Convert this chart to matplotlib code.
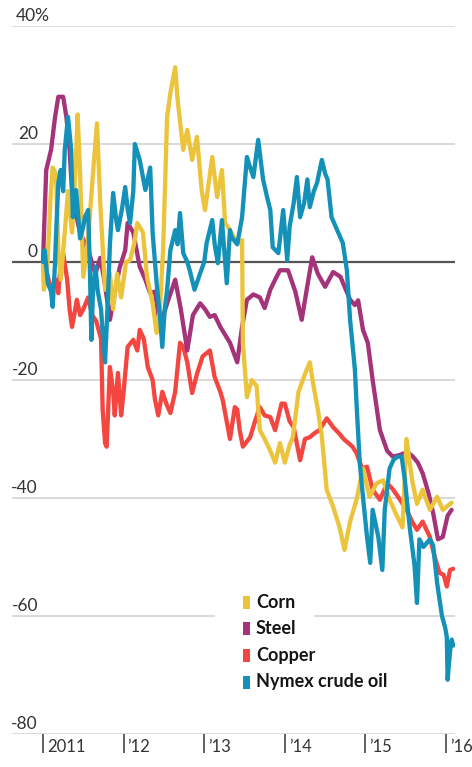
import matplotlib
matplotlib.use('Agg')
import matplotlib.pyplot as plt
from matplotlib.patches import Rectangle
import matplotlib.transforms as mtrans

# ---------------- data ----------------
START = 2011.0
years = [2011, 2012, 2013, 2014, 2015, 2016]
year_labels = ['2011', '\u201912', '\u201913', '\u201914', '\u201915', '\u201916']
y_ticks = [40, 20, 0, -20, -40, -60, -80]
y_labels = ['40%', '20', '0', '-20', '-40', '-60', '-80']
series_names = ['Corn', 'Steel', 'Copper', 'Nymex crude oil']
series_colors = ['#EBC43C', '#A5337A', '#F44641', '#1491B9']

# time in years since Jan 2011, value in % change
corn_t = [0.00, 0.01, 0.05, 0.09, 0.12, 0.16, 0.19, 0.22, 0.27, 0.31, 0.36, 0.41, 0.43, 0.46,
          0.50, 0.56, 0.62, 0.67, 0.71, 0.77, 0.83, 0.87, 0.92, 0.97, 1.03, 1.08, 1.13, 1.17,
          1.24, 1.29, 1.36, 1.41, 1.45, 1.49, 1.54, 1.58, 1.64, 1.67, 1.74, 1.79, 1.85, 1.91,
          1.97, 2.01, 2.10, 2.16, 2.22, 2.26, 2.32, 2.41, 2.47, 2.48, 2.53, 2.59, 2.65, 2.69,
          2.75, 2.82, 2.88, 2.94, 3.00, 3.06, 3.10, 3.17, 3.25, 3.31, 3.35, 3.41, 3.46, 3.52,
          3.60, 3.68, 3.74, 3.81, 3.89, 3.97, 4.05, 4.14, 4.22, 4.30, 4.39, 4.46, 4.51, 4.58,
          4.64, 4.71, 4.80, 4.89, 4.96, 5.07]
corn_v = [0, -4.7, -2, 10, 16, 15, 2, -3, 5, 12, 5, 18, 25, 15,
          -2.5, 4, 15, 23.5, 10, -4.7, -2, -8, -2, -6, 0, 0.3, 3, 6.6,
          5, -2.5, -7, -12, -8, 2, 24.6, 28.6, 33, 27.5, 19, 22.4, 17.3, 21.2,
          12, 8.8, 17.8, 11, 15.6, 6.6, 5.4, 3.2, 3.7, -13.7, -22.9, -20, -21, -28.5,
          -30, -32, -34, -30.7, -34, -31, -29.7, -22, -19, -17, -20.5, -25, -29.7, -38.6,
          -41.5, -45, -48.8, -44, -40.3, -35, -39.8, -37.5, -37, -40.3, -43, -45, -30, -37,
          -41, -38.6, -42, -39.8, -42, -40.8]

steel_t = [0.00, 0.02, 0.04, 0.10, 0.15, 0.19, 0.25, 0.29, 0.33, 0.36, 0.41, 0.46, 0.56, 0.65,
           0.71, 0.76, 0.83, 0.88, 0.95, 1.02, 1.05, 1.12, 1.20, 1.27, 1.33, 1.39, 1.45, 1.54,
           1.64, 1.71, 1.79, 1.86, 1.95, 2.01, 2.07, 2.13, 2.20, 2.32, 2.41, 2.47, 2.53, 2.61,
           2.69, 2.75, 2.82, 2.88, 2.94, 3.04, 3.13, 3.21, 3.28, 3.34, 3.41, 3.50, 3.60, 3.69,
           3.81, 3.87, 3.91, 3.97, 4.03, 4.09, 4.18, 4.27, 4.34, 4.43, 4.52, 4.59, 4.65, 4.71,
           4.78, 4.84, 4.90, 4.96, 5.02, 5.07]
steel_v = [0, 8, 15.6, 19, 24.6, 28, 28, 24.6, 19, 12, 8, 5, 2, -2,
           0.7, -3, -9.8, -6, -1, 2, 6.6, 5, -0.8, -3, -5.3, -5, -11, -7,
           -3, -8, -15, -9, -7, -8, -9.3, -9, -11, -13.7, -17, -11, -6.4, -5.5,
           -6, -7.8, -4.7, -3, -1.4, -1.4, -5, -9.8, -4, 0.8, -2, -4.2, -1.7, -2.5,
           -6.4, -7.3, -6.5, -11.5, -13.7, -20, -28.5, -32, -33, -32.7, -32.2, -33, -34, -35.8,
           -39, -42.5, -47, -46.6, -43, -42]

copper_t = [0.00, 0.05, 0.11, 0.16, 0.19, 0.22, 0.25, 0.30, 0.33, 0.36, 0.40, 0.42, 0.46, 0.50,
            0.56, 0.61, 0.66, 0.72, 0.74, 0.77, 0.79, 0.83, 0.87, 0.89, 0.93, 0.97, 1.00, 1.05,
            1.12, 1.17, 1.20, 1.25, 1.30, 1.36, 1.39, 1.43, 1.48, 1.53, 1.58, 1.64, 1.70, 1.74,
            1.79, 1.85, 1.91, 1.98, 2.07, 2.13, 2.20, 2.23, 2.32, 2.38, 2.41, 2.44, 2.48, 2.57,
            2.63, 2.69, 2.75, 2.82, 2.88, 2.96, 3.00, 3.06, 3.11, 3.19, 3.25, 3.31, 3.37, 3.43,
            3.52, 3.60, 3.67, 3.73, 3.79, 3.84, 3.89, 3.96, 4.02, 4.09, 4.18, 4.27, 4.34, 4.43,
            4.51, 4.58, 4.64, 4.71, 4.80, 4.86, 4.92, 4.97, 5.01, 5.05, 5.09]
copper_v = [0, -2, -5, -3, -5.3, 0, 1.5, -3, -8, -11, -8, -6.4, -9, -8,
            -6, -9, -10, -13, -25, -30.7, -31.3, -17.8, -22, -26, -18.8, -26, -22, -14.4,
            -13.2, -15, -11.5, -13, -17.8, -20, -23.4, -26, -22, -24, -25.6, -22, -13.7, -14.4,
            -17, -22.2, -19, -16, -15, -19.5, -22, -23.4, -30, -24.6, -25, -28.5, -31.3, -29.7,
            -27, -24.6, -26, -26.3, -28.5, -24, -24, -27, -28, -33.6, -30, -29.7, -29, -28.5,
            -26.5, -28, -29, -30, -30.7, -31.3, -32.4, -35, -34.7, -38.6, -40.3, -37.5, -38.5, -40.3,
            -42, -44, -45.4, -44, -46.6, -50, -52.7, -53, -55, -52.2, -52]

oil_t = [0.00, 0.02, 0.06, 0.10, 0.12, 0.15, 0.16, 0.19, 0.22, 0.25, 0.27, 0.31, 0.35, 0.37,
         0.41, 0.46, 0.50, 0.52, 0.56, 0.58, 0.60, 0.62, 0.65, 0.68, 0.72, 0.74, 0.77, 0.81,
         0.83, 0.87, 0.91, 0.93, 0.98, 1.02, 1.05, 1.08, 1.12, 1.14, 1.20, 1.27, 1.33, 1.36,
         1.41, 1.45, 1.48, 1.51, 1.54, 1.58, 1.64, 1.67, 1.70, 1.74, 1.79, 1.82, 1.88, 1.95,
         2.00, 2.03, 2.10, 2.13, 2.17, 2.22, 2.28, 2.32, 2.34, 2.41, 2.47, 2.53, 2.57, 2.61,
         2.67, 2.73, 2.78, 2.82, 2.85, 2.92, 2.98, 3.03, 3.06, 3.11, 3.15, 3.19, 3.24, 3.28,
         3.31, 3.36, 3.40, 3.46, 3.50, 3.53, 3.58, 3.65, 3.72, 3.77, 3.81, 3.84, 3.87, 3.89,
         3.93, 3.97, 4.02, 4.06, 4.09, 4.16, 4.21, 4.24, 4.30, 4.35, 4.40, 4.45, 4.49, 4.55,
         4.61, 4.64, 4.67, 4.72, 4.80, 4.84, 4.89, 4.95, 4.99, 5.01, 5.02, 5.05, 5.07, 5.09]
oil_v = [0, 2, -3.6, -5, -7.6, 0, 4, 13.4, 15.6, 12, 19, 24.6, 19, 7.6,
         12.2, 4, 6, 7.6, 8.8, 0, -13.2, -5, -0.8, -5, -8, -12, -17, -4.7,
         3, 11.7, 7, 5.4, 9, 12.7, 9, 6.6, 12, 20, 17.3, 12.2, 16, 5,
         -3.6, -9, -14.4, -8, -4.7, 2, 5.4, 3, 8.3, 1.5, 0, -1.4, -4.7, -1.9,
         0, 3.2, 7.1, 3, -0.2, 7.1, -3.6, 5.4, 4.2, 3, 7.6, 17.8, 16, 14.4,
         20.7, 14, 11, 8.8, 2.5, 1.5, 8.8, 0.3, 6, 10, 14.4, 7.6, 10, 14,
         9.3, 12, 13.4, 17.3, 15, 14, 7.6, 5.4, 3.2, -1.4, -9.8, -14, -18.3, -24,
         -34, -39.8, -46.6, -51, -42, -46.6, -52.2, -42, -35, -33.5, -33, -33, -37, -45,
         -51.5, -57.8, -47, -48.3, -47, -48, -54.4, -60, -62, -63.6, -70.8, -66, -64, -65]

series_t = [corn_t, steel_t, copper_t, oil_t]
series_v = [corn_v, steel_v, copper_v, oil_v]

# ---------------- figure ----------------
W, H = 472, 767
fig = plt.figure(figsize=(W / 100, H / 100), dpi=100)
fig.patch.set_facecolor('white')

def fx(px):
    return px / W

def fy(py):
    return 1 - py / H

ax = fig.add_axes([fx(12), fy(734), fx(455) - fx(12), fy(26) - fy(734)])
ax.set_xlim(START + (12 - 43) / 80.6, START + (455 - 43) / 80.6)
ax.set_ylim(-80, 40)
for s in ax.spines.values():
    s.set_visible(False)

FONT = 'Lato'

# gridlines
for v in y_ticks:
    if v == 0:
        ax.axhline(v, color='#555555', lw=1.6, zorder=1)
    else:
        ax.axhline(v, color='#cfcfcf', lw=1.1, zorder=1)

# y labels
lab_tr = mtrans.blended_transform_factory(fig.transFigure, ax.transData) + \
    mtrans.ScaledTranslation(0, 5 / 100, fig.dpi_scale_trans)
for v, lab in zip(y_ticks, y_labels):
    if lab.endswith('%'):
        ax.text(fx(16), v, lab, transform=lab_tr, ha='left', va='baseline',
                fontsize=12.5, family=FONT, color='#333333')
    else:
        ax.text(fx(38), v, lab, transform=lab_tr, ha='right', va='baseline',
                fontsize=12.5, family=FONT, color='#333333')

# x ticks
ax.set_yticks([])
ax.set_xticks([START + (y - 2011) for y in years])
ax.set_xticklabels([])
ax.tick_params(axis='x', direction='out', length=13.7, width=1.3, color='#555555')
xl_tr = mtrans.blended_transform_factory(ax.transData, fig.transFigure) + \
    mtrans.ScaledTranslation(4 / 100, 0, fig.dpi_scale_trans)
for y, lab in zip(years, year_labels):
    ax.text(START + (y - 2011), fy(752), lab, transform=xl_tr, ha='left', va='baseline',
            fontsize=12, family=FONT, color='#333333')

# series (draw order: copper, steel, corn, oil on top)
order = [2, 1, 0, 3]
for z, i in enumerate(order):
    ax.plot([START + t for t in series_t[i]], series_v[i], color=series_colors[i],
            lw=3.1, solid_joinstyle='round', solid_capstyle='round', zorder=3 + z)

# legend
fig.add_artist(Rectangle((fx(215), fy(622)), fx(313) - fx(215), 12 / H,
                         transform=fig.transFigure, color='white', zorder=5))
leg_y = [602, 628, 655, 682]
for name, col, py in zip(series_names, series_colors, leg_y):
    fig.add_artist(Rectangle((fx(243), fy(py + 6.5)), 7 / W, 13 / H,
                             transform=fig.transFigure, color=col, zorder=6, lw=0))
    fig.text(fx(256), fy(py), name, ha='left', va='center', fontsize=13,
             family=FONT, weight='bold', color='#151515', zorder=6)

fig.savefig('out.png', dpi=100, facecolor='white')
